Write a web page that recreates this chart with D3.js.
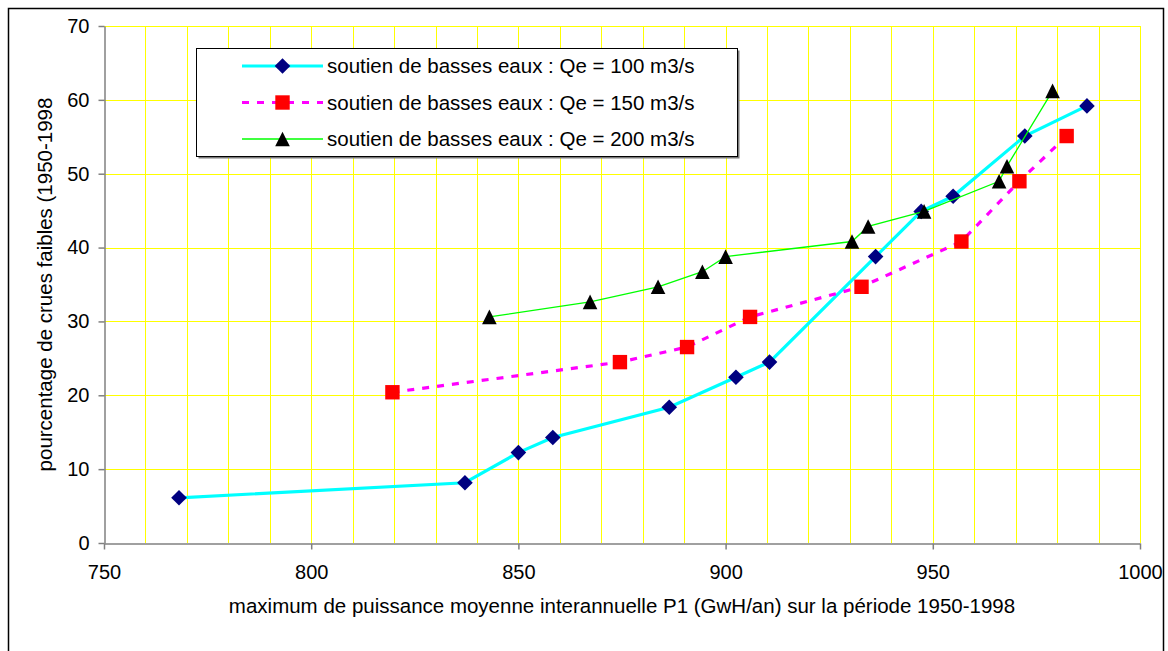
<!DOCTYPE html>
<html>
<head>
<meta charset="utf-8">
<script src="https://cdn.jsdelivr.net/npm/d3@7"></script>
<style>
  html, body { margin: 0; padding: 0; background: #fff; }
  svg { display: block; font-family: "Liberation Sans", Arial, sans-serif; }
</style>
</head>
<body>
<svg id="chart" width="1168" height="651"></svg>
<script>
// P1 maximum (GWh/an) and share of low floods (%) for each support discharge
const p1_Qe100 = [768.1, 837.1, 850.0, 858.3, 886.4, 902.5, 910.6, 936.2, 947.2, 954.9, 972.2, 987.2];
const pct_Qe100 = [6.12, 8.16, 12.24, 14.29, 18.37, 22.45, 24.49, 38.78, 44.90, 46.94, 55.10, 59.18];

const p1_Qe150 = [819.6, 874.5, 890.7, 905.9, 932.8, 956.9, 970.9, 982.3];
const pct_Qe150 = [20.41, 24.49, 26.53, 30.61, 34.69, 40.82, 48.98, 55.10];

const p1_Qe200 = [843.0, 867.3, 883.7, 894.4, 900.0, 930.5, 934.4, 947.9, 966.0, 967.9, 978.9];
const pct_Qe200 = [30.61, 32.65, 34.69, 36.73, 38.78, 40.82, 42.86, 44.90, 48.98, 51.02, 61.22];

const seriesNames = [
  "soutien de basses eaux : Qe = 100 m3/s",
  "soutien de basses eaux : Qe = 150 m3/s",
  "soutien de basses eaux : Qe = 200 m3/s"
];

const xTickValues = [750, 800, 850, 900, 950, 1000];
const yTickValues = [0, 10, 20, 30, 40, 50, 60, 70];

const xTitle = "maximum de puissance moyenne interannuelle P1 (GwH/an) sur la période 1950-1998";
const yTitle = "pourcentage de crues faibles (1950-1998";

const svg = d3.select("#chart");
const plot = { left: 104, right: 1140, top: 26, bottom: 543 };

const x = d3.scaleLinear().domain([750, 1000]).range([plot.left, plot.right]);
const y = d3.scaleLinear().domain([0, 70]).range([plot.bottom, plot.top]);

// outer frame
svg.append("rect")
  .attr("x", 8.5).attr("y", 8.5)
  .attr("width", 1155).attr("height", 700)
  .attr("fill", "#fff").attr("stroke", "#000").attr("stroke-width", 1.5);

// grid
const grid = svg.append("g");
grid.selectAll("line.vx")
  .data(x.ticks(25).filter(v => v > 750))
  .join("line")
  .attr("x1", d => Math.round(x(d)) + 0.5).attr("x2", d => Math.round(x(d)) + 0.5)
  .attr("y1", plot.top).attr("y2", plot.bottom)
  .attr("stroke", "#ffff00").attr("stroke-width", 1);
grid.selectAll("line.hy")
  .data(yTickValues.filter(v => v > 0))
  .join("line")
  .attr("x1", plot.left).attr("x2", plot.right)
  .attr("y1", d => Math.round(y(d)) + 0.5).attr("y2", d => Math.round(y(d)) + 0.5)
  .attr("stroke", "#ffff00").attr("stroke-width", 1);

// axes
const axisColor = "#808080";
const xAxis = svg.append("g")
  .attr("transform", `translate(0,${plot.bottom + 0.5})`)
  .call(d3.axisBottom(x).tickValues(xTickValues).tickSize(6).tickSizeOuter(0).tickPadding(15)
    .tickFormat(d3.format("d")));
const yAxis = svg.append("g")
  .attr("transform", `translate(${plot.left + 0.5},0)`)
  .call(d3.axisLeft(y).tickValues(yTickValues).tickSize(6).tickSizeOuter(0).tickPadding(9)
    .tickFormat(d3.format("d")));
[xAxis, yAxis].forEach(a => {
  a.select(".domain").attr("stroke", axisColor).attr("stroke-width", 1.5);
  a.selectAll(".tick line").attr("stroke", axisColor).attr("stroke-width", 1.5);
  a.selectAll(".tick text").attr("fill", "#000").style("font-size", "20px")
    .style("font-family", '"Liberation Sans", Arial, sans-serif');
});

// axis titles
svg.append("text")
  .attr("x", (plot.left + plot.right) / 2).attr("y", 613)
  .attr("text-anchor", "middle")
  .style("font-size", "20.5px")
  .text(xTitle);
svg.append("text")
  .attr("transform", `translate(52,${(plot.top + plot.bottom) / 2}) rotate(-90)`)
  .attr("text-anchor", "middle")
  .style("font-size", "20.5px")
  .text(yTitle);

// marker shapes
const markerPath = {
  diamond: r => `M0,${-r}L${r},0L0,${r}L${-r},0Z`,
  square: r => `M${-r},${-r}H${r}V${r}H${-r}Z`,
  triangle: r => `M0,${-r}L${r},${r}L${-r},${r}Z`
};

const series = [
  { xs: p1_Qe100, ys: pct_Qe100, line: "#00ffff", width: 3.2, dash: null,
    marker: "diamond", size: 7.8, fill: "#000080" },
  { xs: p1_Qe150, ys: pct_Qe150, line: "#ff00ff", width: 3.2, dash: "7,8",
    marker: "square", size: 7.2, fill: "#ff0000" },
  { xs: p1_Qe200, ys: pct_Qe200, line: "#00ff00", width: 1.3, dash: null,
    marker: "triangle", size: 7.3, fill: "#000000" }
];

const lineGen = d3.line().x(d => x(d[0])).y(d => y(d[1]));

series.forEach(s => {
  const pts = s.xs.map((v, i) => [v, s.ys[i]]);
  const g = svg.append("g");
  g.append("path")
    .attr("d", lineGen(pts))
    .attr("fill", "none")
    .attr("stroke", s.line)
    .attr("stroke-width", s.width)
    .attr("stroke-dasharray", s.dash);
  g.selectAll("path.m")
    .data(pts)
    .join("path")
    .attr("class", "m")
    .attr("transform", d => `translate(${x(d[0])},${y(d[1])})`)
    .attr("d", markerPath[s.marker](s.size))
    .attr("fill", s.fill);
});

// legend
const lg = svg.append("g");
const box = { x: 196.5, y: 48.5, w: 541, h: 108 };
lg.append("rect")
  .attr("x", box.x + 2).attr("y", box.y + 2).attr("width", box.w).attr("height", box.h)
  .attr("fill", "#7a7a7a");
lg.append("rect")
  .attr("x", box.x).attr("y", box.y).attr("width", box.w).attr("height", box.h)
  .attr("fill", "#fff").attr("stroke", "#000").attr("stroke-width", 1);
const rowY = [66, 102.5, 139];
series.forEach((s, i) => {
  const ry = rowY[i];
  lg.append("line")
    .attr("x1", 242).attr("x2", 323)
    .attr("y1", ry).attr("y2", ry)
    .attr("stroke", s.line).attr("stroke-width", s.width)
    .attr("stroke-dasharray", s.dash);
  lg.append("path")
    .attr("transform", `translate(282.5,${ry})`)
    .attr("d", markerPath[s.marker](s.size))
    .attr("fill", s.fill);
  lg.append("text")
    .attr("x", 327).attr("y", ry + 7.3)
    .style("font-size", "20.5px")
    .text(seriesNames[i]);
});
</script>
</body>
</html>
